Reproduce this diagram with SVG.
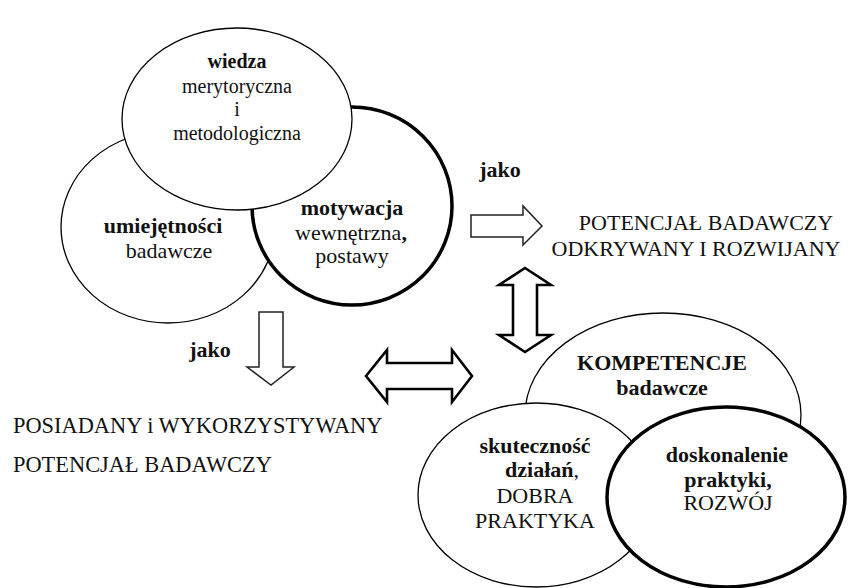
<svg xmlns="http://www.w3.org/2000/svg" width="864" height="588" viewBox="0 0 864 588">
<style>
.c{fill:#fff;stroke:#000;stroke-width:1.3}
.cb{fill:#fff;stroke:#000;stroke-width:3.5}
text{font-family:"Liberation Serif","Times New Roman",serif;font-size:22px;fill:#111;text-anchor:middle}
.s{font-size:20px}
.b{font-weight:bold}
.l{text-anchor:start;font-size:22.4px}
.a1{fill:#fff;stroke:#222;stroke-width:1.5;stroke-linejoin:miter}
.a2{fill:#fff;stroke:#000;stroke-width:2.6;stroke-linejoin:miter}
</style>
<rect width="864" height="588" fill="#fff"/>
<g id="umiejetnosci">
<ellipse class="c" cx="168" cy="227" rx="107" ry="96"/>
<text x="163" y="233" class="b">umiejętności</text>
<text x="169" y="258">badawcze</text>
</g>
<g id="motywacja">
<ellipse class="cb" cx="352" cy="206" rx="100" ry="99"/>
<text x="352" y="215" class="b">motywacja</text>
<text x="351" y="240">wewnętrzna<tspan class="b">,</tspan></text>
<text x="352" y="263">postawy</text>
</g>
<g id="wiedza">
<ellipse class="c" cx="237" cy="119" rx="115" ry="91"/>
<text x="237" y="68" class="b s">wiedza</text>
<text x="237" y="93" class="s">merytoryczna</text>
<text x="237" y="116" class="s">i</text>
<text x="237" y="140" class="s">metodologiczna</text>
</g>
<g id="kompetencje">
<ellipse class="c" cx="663" cy="415" rx="138" ry="102"/>
<text x="662" y="370" class="b">KOMPETENCJE</text>
<text x="662" y="395" class="b">badawcze</text>
</g>
<g id="skutecznosc">
<ellipse class="c" cx="536" cy="495" rx="118" ry="92"/>
<text x="535" y="453" class="b">skuteczność</text>
<text x="542" y="477" class="b">działań<tspan font-weight="normal">,</tspan></text>
<text x="535" y="503">DOBRA</text>
<text x="535" y="528">PRAKTYKA</text>
</g>
<g id="doskonalenie">
<ellipse class="cb" cx="726" cy="497" rx="119" ry="90"/>
<text x="727" y="462" class="b">doskonalenie</text>
<text x="728" y="487" class="b">praktyki,</text>
<text x="728" y="510">ROZWÓJ</text>
</g>
<g id="potencjal-odkrywany">
<text x="706" y="230">POTENCJAŁ BADAWCZY</text>
<text x="696" y="256" font-size="23.5">ODKRYWANY I ROZWIJANY</text>
</g>
<g id="potencjal-posiadany">
<text x="13" y="433" class="l">POSIADANY i WYKORZYSTYWANY</text>
<text x="13" y="472" class="l">POTENCJAŁ BADAWCZY</text>
</g>
<g id="connectors">
<polygon class="a1" points="471,215 523,215 523,206 542,226 523,245 523,237 471,237"/>
<text x="500" y="177" class="b">jako</text>
<polygon class="a1" points="259,312 283,312 283,367 294,367 271,385 247,367 259,367"/>
<text x="210" y="357" class="b">jako</text>
<polygon class="a2" points="366,376 387,350 387,363 452,363 452,350 472,376 452,402 452,389 387,389 387,402"/>
<polygon class="a2" points="525,268 551,285 537,285 537,335 551,335 525,352 499,335 513,335 513,285 499,285"/>
</g>
</svg>
